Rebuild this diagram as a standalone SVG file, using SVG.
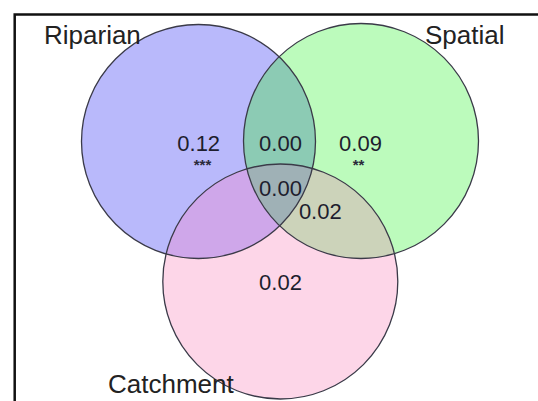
<svg xmlns="http://www.w3.org/2000/svg" width="538" height="401" viewBox="0 0 538 401">
<style>
.lbl{font-family:"Liberation Sans",Arial,sans-serif;font-size:26px;fill:#222}
.num{font-family:"Liberation Sans",Arial,sans-serif;font-size:22px;fill:#1e1e2e;text-anchor:middle}
.sig{font-family:"Liberation Sans",Arial,sans-serif;font-size:15px;font-weight:bold;fill:#2a2a3a;text-anchor:middle}
.ring{fill:none;stroke:#3a3a48;stroke-width:1.3}
</style>
<defs>
<clipPath id="cB"><circle cx="198.5" cy="141.5" r="117"/></clipPath>
<clipPath id="cG"><circle cx="361" cy="141" r="117.5"/></clipPath>
<clipPath id="cP"><circle cx="280.3" cy="281.5" r="117.5"/></clipPath>
</defs>
<rect x="0" y="0" width="538" height="401" fill="#ffffff"/>
<rect x="14.7" y="14.5" width="600" height="500" fill="none" stroke="#111" stroke-width="2.5"/>
<g id="fills">
<circle cx="198.5" cy="141.5" r="117" fill="#b9b9fb"/>
<circle cx="361" cy="141" r="117.5" fill="#bcfbbc"/>
<circle cx="280.3" cy="281.5" r="117.5" fill="#fdd6e8"/>
<g clip-path="url(#cB)"><circle cx="361" cy="141" r="117.5" fill="#8ccbb4"/><circle cx="280.3" cy="281.5" r="117.5" fill="#cfa7ea"/></g>
<g clip-path="url(#cG)"><circle cx="280.3" cy="281.5" r="117.5" fill="#ccd3ba"/></g>
<g clip-path="url(#cB)"><g clip-path="url(#cG)"><circle cx="280.3" cy="281.5" r="117.5" fill="#9fb1b6"/></g></g>
</g>
<g id="riparian"><circle class="ring" cx="198.5" cy="141.5" r="117"/><text class="lbl" x="44" y="43.5">Riparian</text></g>
<g id="spatial"><circle class="ring" cx="361" cy="141" r="117.5"/><text class="lbl" x="425" y="43.5">Spatial</text></g>
<g id="catchment"><circle class="ring" cx="280.3" cy="281.5" r="117.5"/><text class="lbl" x="108" y="392.5">Catchment</text></g>
<g id="values">
<text class="num" x="198.7" y="150.7">0.12</text>
<text class="sig" x="202.5" y="170">***</text>
<text class="num" x="280.5" y="150.7">0.00</text>
<text class="num" x="360.5" y="150.7">0.09</text>
<text class="sig" x="358.5" y="170">**</text>
<text class="num" x="280.5" y="195.7">0.00</text>
<text class="num" x="320.3" y="219.3">0.02</text>
<text class="num" x="280.5" y="290">0.02</text>
</g>
<g id="connectors"/>
</svg>
